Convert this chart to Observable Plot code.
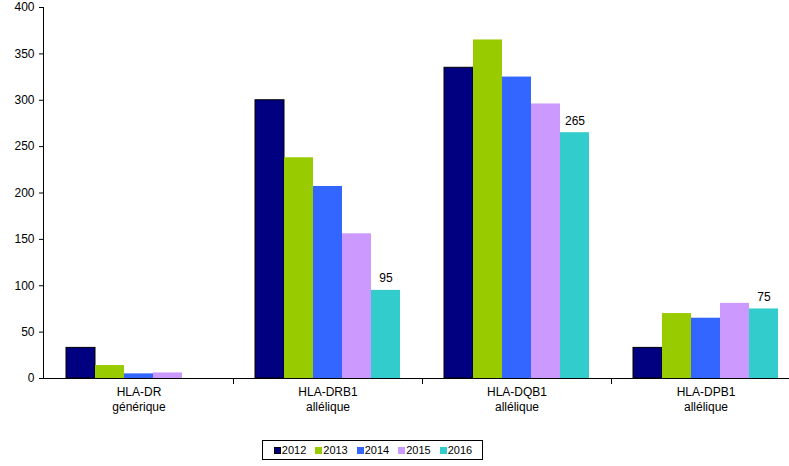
<!DOCTYPE html>
<html>
<head>
<meta charset="utf-8">
<script src="https://cdn.jsdelivr.net/npm/d3@7"></script>
<script src="https://cdn.jsdelivr.net/npm/@observablehq/plot@0.6"></script>
<style>
  html, body { margin: 0; padding: 0; background: #fff; overflow: hidden; }
  #wrap { position: relative; width: 789px; height: 466px; overflow: hidden; font-family: "Liberation Sans", Arial, sans-serif; }
  #legend { position: absolute; left: 262px; top: 440px; width: 219px; height: 18px; border: 1px solid #000;
            display: flex; align-items: center; justify-content: center; gap: 0; font-size: 11px; color: #000; }
  #legend .it { display: flex; align-items: center; margin: 0 4px 0 5px; }
  #legend .sw { width: 7px; height: 7px; margin-right: 1px; box-sizing: border-box; }
</style>
</head>
<body>
<div id="wrap"></div>
<script>
const categories = ["HLA-DR\ngénérique", "HLA-DRB1\nallélique", "HLA-DQB1\nallélique", "HLA-DPB1\nallélique"];
const years = ["2012", "2013", "2014", "2015", "2016"];
const colors = ["#000080", "#99CC00", "#3366FF", "#CC99FF", "#33CCCC"];
const values2012 = [33, 300, 335, 33];
const values2013 = [14, 238, 365, 70];
const values2014 = [5, 207, 325, 65];
const values2015 = [6, 156, 296, 81];
const values2016 = [0, 95, 265, 75];
const yTicks = [0, 50, 100, 150, 200, 250, 300, 350, 400];

const series = [values2012, values2013, values2014, values2015, values2016];
const data = [];
categories.forEach((c, ci) => years.forEach((yr, yi) => data.push({cat: c, year: yr, value: series[yi][ci]})));

const chart = Plot.plot({
  width: 801,
  height: 432,
  marginLeft: 43,
  marginRight: 0,
  marginTop: 7,
  marginBottom: 54,
  style: {fontFamily: "Liberation Sans, Arial, sans-serif", fontSize: "12px", color: "#000", maxWidth: "none", background: "#fff", overflow: "visible"},
  fx: {domain: categories, paddingInner: 0, paddingOuter: 0, label: null},
  x: {domain: years, paddingInner: 0, paddingOuter: 0.75, axis: null},
  y: {domain: [0, 400], label: null},
  color: {domain: years, range: colors},
  marks: [
    Plot.axisY({ticks: yTicks, tickSize: 5, tickPadding: 5, fontSize: 12, label: null}),
    Plot.axisFx({anchor: "bottom", tickSize: 0, tickPadding: 7, fontSize: 12, lineHeight: 1.25, label: null}),
    Plot.barY(data, {fx: "cat", x: "year", y: "value", fill: "year",
      stroke: d => d.year === years[0] ? "#000" : "none", strokeWidth: 1}),
    Plot.text(data.filter(d => d.year === years[4] && d.value > 0), {fx: "cat", x: "year", y: "value", text: d => String(d.value),
      dy: -12, fontSize: 12, fill: "#000"}),
    Plot.ruleY([0], {stroke: "#000", strokeWidth: 1})
  ]
});

document.getElementById("wrap").appendChild(chart);

// axis line and category separator ticks, placed from the plot's own scales
const yS = chart.scale("y");
const fxS = chart.scale("fx");
const svg = d3.select(chart);
const g = svg.append("g").attr("stroke", "#000").attr("stroke-width", 1);
const y0 = yS.apply(0), yTop = yS.apply(yTicks[yTicks.length - 1]);
const left = fxS.range[0];
g.append("line").attr("x1", left + 0.5).attr("x2", left + 0.5).attr("y1", yTop).attr("y2", y0 + 0.5);
categories.slice(1).forEach(c => {
  const x = Math.round(fxS.apply(c)) + 0.5;
  g.append("line").attr("x1", x).attr("x2", x).attr("y1", y0).attr("y2", y0 + 6);
});

// legend
const legend = document.createElement("div");
legend.id = "legend";
years.forEach((yr, i) => {
  const it = document.createElement("div");
  it.className = "it";
  const sw = document.createElement("div");
  sw.className = "sw";
  sw.style.background = colors[i];
  if (i === 0) sw.style.border = "1px solid #000";
  const lab = document.createElement("span");
  lab.textContent = yr;
  it.appendChild(sw); it.appendChild(lab);
  legend.appendChild(it);
});
document.getElementById("wrap").appendChild(legend);
</script>
</body>
</html>
